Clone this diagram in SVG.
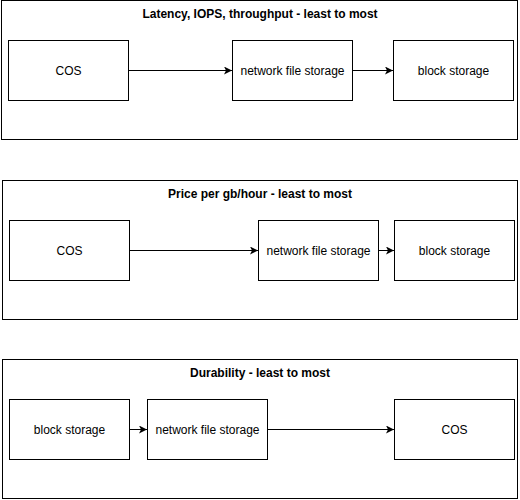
<svg xmlns="http://www.w3.org/2000/svg" width="520" height="500" viewBox="0 0 520 500">
<defs>
<marker id="arr" markerWidth="10" markerHeight="10" refX="8" refY="4" orient="auto" markerUnits="userSpaceOnUse">
<path d="M0,0 L8,4 L0,8 L2,4 Z" fill="#000"/>
</marker>
</defs>
<style>
.panel{fill:#fff;stroke:#000;stroke-width:1}
.box{fill:#fff;stroke:#000;stroke-width:1}
.lbl{font-family:"Liberation Sans",Arial,sans-serif;font-size:12px;fill:#000;text-anchor:middle}
.ttl{font-family:"Liberation Sans",Arial,sans-serif;font-size:12px;font-weight:bold;fill:#000;text-anchor:middle}
.edge{stroke:#000;stroke-width:1;fill:none;marker-end:url(#arr)}
</style>
<rect width="520" height="500" fill="#fff"/>
<g id="panel-latency">
<rect class="panel" x="1.5" y="0.5" width="516" height="139"/>
<text class="ttl" x="260" y="18">Latency, IOPS, throughput - least to most</text>
</g>
<g id="panel-price">
<rect class="panel" x="2.5" y="180.5" width="515" height="139"/>
<text class="ttl" x="260" y="198">Price per gb/hour - least to most</text>
</g>
<g id="panel-durability">
<rect class="panel" x="2.5" y="359.5" width="515" height="139"/>
<text class="ttl" x="260" y="377">Durability - least to most</text>
</g>
<g id="n1-cos"><rect class="box" x="8.5" y="40.5" width="120" height="60"/><text class="lbl" x="68.5" y="74.5">COS</text></g>
<g id="n1-nfs"><rect class="box" x="232.5" y="40.5" width="120" height="60"/><text class="lbl" x="292.5" y="74.5">network file storage</text></g>
<g id="n1-block"><rect class="box" x="393.5" y="40.5" width="120" height="60"/><text class="lbl" x="453.5" y="74.5">block storage</text></g>
<g id="n2-cos"><rect class="box" x="9.5" y="220.5" width="120" height="60"/><text class="lbl" x="69.5" y="254.5">COS</text></g>
<g id="n2-nfs"><rect class="box" x="258.5" y="220.5" width="120" height="60"/><text class="lbl" x="318.5" y="254.5">network file storage</text></g>
<g id="n2-block"><rect class="box" x="394.5" y="220.5" width="120" height="60"/><text class="lbl" x="454.5" y="254.5">block storage</text></g>
<g id="n3-block"><rect class="box" x="9.5" y="399.5" width="120" height="60"/><text class="lbl" x="69.5" y="433.5">block storage</text></g>
<g id="n3-nfs"><rect class="box" x="147.5" y="399.5" width="120" height="60"/><text class="lbl" x="207.5" y="433.5">network file storage</text></g>
<g id="n3-cos"><rect class="box" x="394.5" y="399.5" width="120" height="60"/><text class="lbl" x="454.5" y="433.5">COS</text></g>
<g id="connectors">
<path class="edge" d="M128.5,70.5 L232,70.5"/>
<path class="edge" d="M352.5,70.5 L393,70.5"/>
<path class="edge" d="M129.5,250.5 L258,250.5"/>
<path class="edge" d="M378.5,250.5 L394,250.5"/>
<path class="edge" d="M129.5,429.5 L147,429.5"/>
<path class="edge" d="M267.5,429.5 L394,429.5"/>
</g>
</svg>
